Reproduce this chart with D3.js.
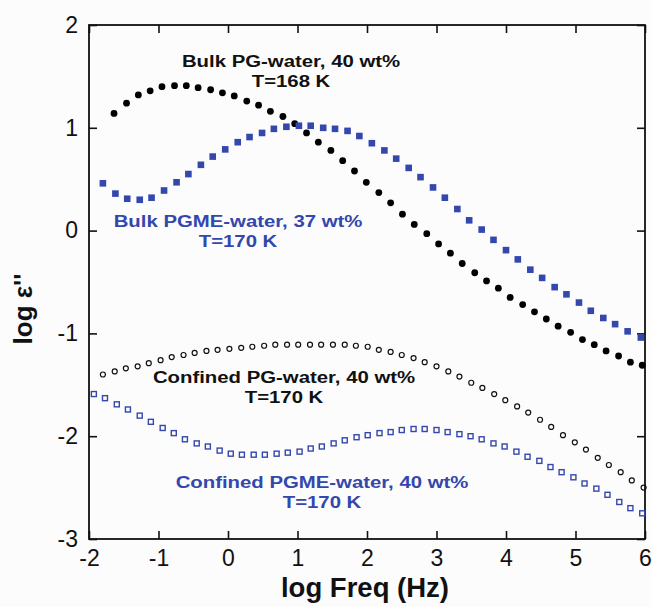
<!DOCTYPE html>
<html>
<head>
<meta charset="utf-8">
<script src="https://cdn.jsdelivr.net/npm/d3@7"></script>
<style>
  body { margin: 0; background: #fcfcfc; }
  svg { display: block; }
</style>
</head>
<body>
<div id="chart"></div>
<script>
// log Freq values (x) and log eps'' values (y) for each series
let bulkPgX = [-1.64, -1.46, -1.29, -1.12, -0.95, -0.77, -0.60, -0.43, -0.25, -0.08, 0.09, 0.27, 0.44, 0.61, 0.79, 0.96, 1.13, 1.30, 1.48, 1.65, 1.82, 1.99, 2.17, 2.34, 2.51, 2.68, 2.86, 3.03, 3.20, 3.37, 3.55, 3.72, 3.89, 4.06, 4.24, 4.41, 4.58, 4.75, 4.93, 5.10, 5.27, 5.44, 5.62, 5.79, 5.96];
let bulkPgY = [1.14, 1.24, 1.32, 1.36, 1.40, 1.41, 1.41, 1.39, 1.37, 1.34, 1.31, 1.26, 1.22, 1.16, 1.11, 1.04, 0.95, 0.86, 0.78, 0.68, 0.58, 0.47, 0.37, 0.27, 0.16, 0.06, -0.03, -0.13, -0.22, -0.32, -0.41, -0.49, -0.56, -0.65, -0.72, -0.79, -0.86, -0.93, -0.99, -1.06, -1.11, -1.17, -1.22, -1.28, -1.31];

let bulkPgmeX = [-1.80, -1.62, -1.45, -1.27, -1.10, -0.92, -0.74, -0.57, -0.39, -0.22, -0.04, 0.14, 0.31, 0.49, 0.66, 0.84, 1.02, 1.19, 1.37, 1.54, 1.72, 1.89, 2.07, 2.25, 2.42, 2.60, 2.77, 2.95, 3.12, 3.30, 3.47, 3.65, 3.82, 4.00, 4.17, 4.35, 4.52, 4.70, 4.87, 5.05, 5.22, 5.40, 5.57, 5.75, 5.94];
let bulkPgmeY = [0.46, 0.36, 0.31, 0.30, 0.32, 0.39, 0.47, 0.55, 0.64, 0.72, 0.79, 0.86, 0.91, 0.95, 0.99, 1.01, 1.02, 1.02, 1.00, 0.99, 0.97, 0.92, 0.85, 0.78, 0.70, 0.61, 0.52, 0.42, 0.32, 0.21, 0.10, 0.01, -0.09, -0.19, -0.28, -0.38, -0.46, -0.55, -0.62, -0.70, -0.78, -0.85, -0.91, -0.98, -1.04];

let confPgX = [-1.80, -1.63, -1.47, -1.30, -1.14, -0.97, -0.81, -0.64, -0.48, -0.31, -0.15, 0.02, 0.19, 0.35, 0.52, 0.68, 0.85, 1.01, 1.18, 1.34, 1.51, 1.68, 1.84, 2.01, 2.17, 2.34, 2.50, 2.67, 2.83, 3.00, 3.17, 3.33, 3.50, 3.66, 3.83, 3.99, 4.16, 4.32, 4.49, 4.65, 4.82, 4.99, 5.15, 5.32, 5.48, 5.65, 5.81, 5.98];
let confPgY = [-1.40, -1.37, -1.34, -1.32, -1.29, -1.26, -1.23, -1.21, -1.19, -1.17, -1.16, -1.15, -1.14, -1.13, -1.12, -1.11, -1.11, -1.11, -1.11, -1.11, -1.11, -1.11, -1.12, -1.13, -1.16, -1.18, -1.21, -1.24, -1.28, -1.32, -1.37, -1.42, -1.48, -1.53, -1.59, -1.65, -1.71, -1.77, -1.84, -1.91, -1.99, -2.06, -2.13, -2.21, -2.28, -2.35, -2.43, -2.50];

let confPgmeX = [-1.93, -1.77, -1.60, -1.44, -1.27, -1.11, -0.94, -0.78, -0.62, -0.45, -0.29, -0.12, 0.04, 0.20, 0.37, 0.53, 0.70, 0.86, 1.03, 1.19, 1.35, 1.52, 1.68, 1.85, 2.01, 2.18, 2.34, 2.50, 2.67, 2.83, 3.00, 3.16, 3.33, 3.49, 3.65, 3.82, 3.98, 4.15, 4.31, 4.48, 4.64, 4.80, 4.97, 5.13, 5.30, 5.46, 5.63, 5.79, 5.96];
let confPgmeY = [-1.59, -1.63, -1.69, -1.74, -1.80, -1.86, -1.92, -1.97, -2.03, -2.07, -2.10, -2.14, -2.17, -2.18, -2.18, -2.18, -2.17, -2.16, -2.15, -2.12, -2.10, -2.07, -2.04, -2.01, -1.99, -1.97, -1.96, -1.94, -1.93, -1.93, -1.94, -1.96, -1.98, -2.00, -2.03, -2.07, -2.10, -2.15, -2.20, -2.24, -2.30, -2.35, -2.40, -2.46, -2.51, -2.57, -2.64, -2.70, -2.75];

let xTicks = [-2, -1, 0, 1, 2, 3, 4, 5, 6];
let yTicks = [-3, -2, -1, 0, 1, 2];

let BLUE = "#3447ad";
let FONT = "'Liberation Sans', Arial, Helvetica, sans-serif";

let svg = d3.select("#chart").append("svg")
    .attr("width", 652)
    .attr("height", 607);

let plotLeft = 89, plotRight = 645, plotTop = 25, plotBottom = 539;

let xScale = d3.scaleLinear().domain([-2, 6]).range([plotLeft, plotRight]);
let yScale = d3.scaleLinear().domain([-3, 2]).range([plotBottom, plotTop]);

// plain hyphen for negatives, no decimals
let fmt = function(d) { return d3.format("d")(d).replace("\u2212", "-"); };

function styleAxis(g) {
    g.select(".domain").remove();
    g.selectAll(".tick line").attr("stroke", "#111").attr("stroke-width", 1.6);
    g.selectAll(".tick text")
        .attr("font-size", 23)
        .attr("font-family", FONT)
        .attr("fill", "#111");
}

// axes, ticks pointing inward
svg.append("g")
    .attr("transform", "translate(0," + plotBottom + ")")
    .call(d3.axisBottom(xScale).tickValues(xTicks).tickFormat(fmt).tickSize(-8).tickSizeOuter(0).tickPadding(11))
    .call(styleAxis);

svg.append("g")
    .attr("transform", "translate(" + plotLeft + ",0)")
    .call(d3.axisLeft(yScale).tickValues(yTicks).tickFormat(fmt).tickSize(-8).tickSizeOuter(0).tickPadding(11))
    .call(styleAxis);

svg.append("g")
    .attr("transform", "translate(0," + plotTop + ")")
    .call(d3.axisTop(xScale).tickValues(xTicks).tickSize(-8).tickSizeOuter(0).tickFormat(""))
    .call(styleAxis);

svg.append("g")
    .attr("transform", "translate(" + plotRight + ",0)")
    .call(d3.axisRight(yScale).tickValues(yTicks).tickSize(-8).tickSizeOuter(0).tickFormat(""))
    .call(styleAxis);

// frame
svg.append("rect")
    .attr("x", plotLeft).attr("y", plotTop)
    .attr("width", plotRight - plotLeft).attr("height", plotBottom - plotTop)
    .attr("fill", "none")
    .attr("stroke", "#111")
    .attr("stroke-width", 1.8);

function pairs(xs, ys) {
    return xs.map(function(x, i) { return [x, ys[i]]; });
}

// Bulk PG-water: filled black circles
svg.append("g").selectAll("circle")
    .data(pairs(bulkPgX, bulkPgY))
    .enter().append("circle")
    .attr("cx", function(d) { return xScale(d[0]); })
    .attr("cy", function(d) { return yScale(d[1]); })
    .attr("r", 3.4)
    .attr("fill", "#000");

// Bulk PGME-water: filled blue squares
let sq = 6.6;
svg.append("g").selectAll("rect")
    .data(pairs(bulkPgmeX, bulkPgmeY))
    .enter().append("rect")
    .attr("x", function(d) { return xScale(d[0]) - sq / 2; })
    .attr("y", function(d) { return yScale(d[1]) - sq / 2; })
    .attr("width", sq).attr("height", sq)
    .attr("fill", BLUE);

// Confined PG-water: open circles
svg.append("g").selectAll("circle")
    .data(pairs(confPgX, confPgY))
    .enter().append("circle")
    .attr("cx", function(d) { return xScale(d[0]); })
    .attr("cy", function(d) { return yScale(d[1]); })
    .attr("r", 2.5)
    .attr("fill", "none")
    .attr("stroke", "#111")
    .attr("stroke-width", 1.2);

// Confined PGME-water: open blue squares
let osq = 5;
svg.append("g").selectAll("rect")
    .data(pairs(confPgmeX, confPgmeY))
    .enter().append("rect")
    .attr("x", function(d) { return xScale(d[0]) - osq / 2; })
    .attr("y", function(d) { return yScale(d[1]) - osq / 2; })
    .attr("width", osq).attr("height", osq)
    .attr("fill", "none")
    .attr("stroke", BLUE)
    .attr("stroke-width", 1.4);

// annotations (the original lettering is a bit wide, so stretch it sideways)
let labels = [
    {lines: ["Bulk PG-water, 40 wt%", "T=168 K"], x: 291, y: 67, color: "#111"},
    {lines: ["Bulk PGME-water, 37 wt%", "T=170 K"], x: 238, y: 227, color: BLUE},
    {lines: ["Confined PG-water, 40 wt%", "T=170 K"], x: 284, y: 383, color: "#111"},
    {lines: ["Confined PGME-water, 40 wt%", "T=170 K"], x: 322, y: 488, color: BLUE}
];
labels.forEach(function(l) {
    l.lines.forEach(function(t, i) {
        svg.append("text")
            .attr("transform", "translate(" + l.x + "," + (l.y + i * 20) + ") scale(1.17,1)")
            .attr("text-anchor", "middle")
            .attr("font-family", FONT)
            .attr("font-weight", "bold")
            .attr("font-size", 17.4)
            .attr("fill", l.color)
            .text(t);
    });
});

// axis titles
svg.append("text")
    .attr("x", 365)
    .attr("y", 597)
    .attr("text-anchor", "middle")
    .attr("font-family", FONT)
    .attr("font-weight", "bold")
    .attr("font-size", 27.5)
    .attr("fill", "#111")
    .text("log Freq (Hz)");

svg.append("text")
    .attr("transform", "translate(32,309) rotate(-90)")
    .attr("text-anchor", "middle")
    .attr("font-family", FONT)
    .attr("font-weight", "bold")
    .attr("font-size", 26)
    .attr("fill", "#111")
    .text("log \u03b5''");
</script>
</body>
</html>
